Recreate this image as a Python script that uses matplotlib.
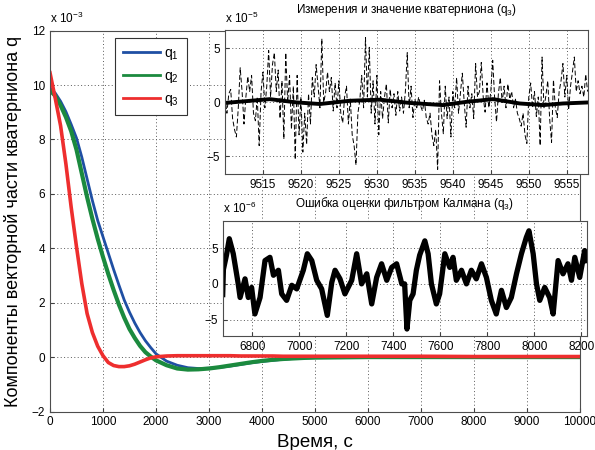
import numpy as np
import matplotlib
matplotlib.use("Agg")
import matplotlib.pyplot as plt

plt.rcParams['font.family'] = ['Liberation Sans', 'DejaVu Sans']
plt.rcParams['mathtext.fontset'] = 'custom'
plt.rcParams['mathtext.rm'] = 'Liberation Sans'
plt.rcParams['mathtext.it'] = 'Liberation Sans'

# ---------------- main chart data (values in units of 1e-3) ----------------
t_main = [0, 100, 200, 300, 400, 500, 600, 700, 800, 900, 1000, 1100, 1200, 1300, 1400,
          1500, 1600, 1700, 1800, 1900, 2000, 2200, 2400, 2600, 2800, 3000, 3200, 3400,
          3600, 3800, 4000, 4200, 4400, 4600, 4800, 5000, 6000, 7000, 8000, 9000, 10000]
q1 = [9.9, 9.7, 9.4, 9.02, 8.55, 8.05, 7.35, 6.55, 5.75, 5.02, 4.42, 3.82, 3.22, 2.65, 2.1,
      1.65, 1.25, 0.9, 0.6, 0.35, 0.12, -0.15, -0.3, -0.39, -0.42, -0.41, -0.38, -0.33,
      -0.27, -0.21, -0.16, -0.12, -0.08, -0.05, -0.03, -0.02, 0.0, 0.0, 0.0, 0.0, 0.0]
q2 = [9.8, 9.6, 9.25, 8.82, 8.3, 7.62, 6.75, 5.88, 5.08, 4.35, 3.68, 3.05, 2.47, 1.93, 1.45,
      1.03, 0.7, 0.41, 0.18, 0.02, -0.12, -0.3, -0.42, -0.46, -0.45, -0.42, -0.37, -0.31,
      -0.25, -0.19, -0.14, -0.1, -0.07, -0.05, -0.03, -0.02, 0.0, 0.0, 0.0, 0.0, 0.0]
q3 = [10.45, 9.5, 8.5, 7.1, 5.5, 4.05, 2.7, 1.6, 0.9, 0.4, 0.05, -0.2, -0.31, -0.35, -0.35,
      -0.32, -0.26, -0.18, -0.1, -0.03, 0.01, 0.04, 0.05, 0.05, 0.05, 0.05, 0.05, 0.05,
      0.04, 0.04, 0.04, 0.04, 0.03, 0.03, 0.03, 0.03, 0.03, 0.03, 0.02, 0.02, 0.02]
series_labels = ['q$_1$', 'q$_2$', 'q$_3$']
x_ticks_main = list(range(0, 10001, 1000))
y_ticks_main = list(range(-2, 13, 2))

# ---------------- inset 1: measurements (x1e-5) and estimate ----------------
meas_v = [
    0.5, -1.0, 0.8, 1.2, -1.5, -2.5, -3.2, -0.5, 3.2, 1.0, -2.0, 0.5, 2.4, 1.0, 2.5, -1.0,
    -1.7, 0.5, -4.0, 1.0, 2.8, -0.5, 1.5, 4.8, 0.5, 3.5, 4.6, 1.0, 3.0, -1.5, 2.0, -3.4,
    4.6, 0.0, 2.5, -2.5, 1.5, -5.3, 2.5, -3.0, 0.5, -4.6, -1.0, -3.9, 0.8, -2.0, 2.3, 0.5,
    3.5, 1.5, -0.5, 5.9, 0.0, 0.9, 2.8, 1.0, 2.3, -0.8, 1.8, -0.5, 2.0, -1.0, -1.9, 0.5,
    1.5, -2.0, 0.3, -3.0, -4.0, -5.8, -1.0, 0.2, 2.5, -0.5, 6.0, 0.5, 5.1, -1.0, 2.0, -2.0,
    2.5, -3.0, 1.0, -1.5, 0.5, 1.7, -1.9, 1.2, -0.5, 0.8, -1.2, 1.0, -0.8, 0.5, -1.0, 1.0,
    4.6, -0.5, 1.5, -1.4, 0.3, -0.5, 0.5, -0.3, -0.8, 0.2, -1.4, -2.0, -1.0, -3.0, -4.0, -2.5,
    -6.2, 2.0, -1.0, -2.9, 1.5, -1.5, 0.5, -3.2, 1.0, -0.5, 2.3, -1.0, 0.8, 2.7, 0.0, -2.3,
    1.5, -0.5, 0.8, -1.5, 3.6, 0.5, 1.0, 3.7, 0.5, -0.9, 1.8, -0.5, 1.0, 3.9, 0.5, -1.8,
    0.8, 2.3, 0.0, 1.5, -0.5, 1.7, 0.3, 1.0, -0.5, 0.3, -1.0, -1.5, -2.2, -1.0, -3.0, -3.8,
    0.5, 1.8, -0.5, 1.0, -1.3, 0.5, -4.0, 4.2, -0.5, 0.6, 2.0, -1.5, -3.7, 2.1, -0.5, -1.4,
    1.0, 2.0, 3.6, 0.5, 2.5, -0.7, 1.5, 2.8, 4.2, 1.0, 2.0, 0.8, 1.5, 0.5, 2.6, 1.0]
meas_t0 = 9510.0
meas_dt = 0.25
est_t = [9510, 9515.9, 9519.4, 9522.5, 9526.4, 9530.4, 9534.3, 9538.7, 9541.8, 9545.3,
         9548.8, 9551.9, 9554.5, 9558]
est_v = [-0.05, 0.3, 0.0, -0.15, 0.15, 0.25, -0.05, -0.25, 0.05, 0.3, -0.1, -0.25, -0.1, 0.0]
inset1_xticks = list(range(9515, 9556, 5))
inset1_yticks = [-5, 0, 5]

# ---------------- inset 2: Kalman estimate error (x1e-6) ----------------
err_t = [6674, 6677, 6690, 6702, 6719, 6740, 6748, 6769, 6783, 6797, 6811, 6833, 6854,
         6875, 6890, 6911, 6925, 6946, 6968, 6989, 7017, 7034, 7053, 7074, 7095, 7119,
         7138, 7152, 7173, 7194, 7223, 7244, 7265, 7287, 7308, 7329, 7350, 7372, 7393,
         7414, 7436, 7448, 7458, 7470, 7484, 7498, 7512, 7534, 7548, 7562, 7583, 7597,
         7619, 7640, 7654, 7668, 7690, 7711, 7732, 7753, 7775, 7796, 7817, 7838, 7860,
         7881, 7902, 7924, 7945, 7966, 7977, 7995, 8009, 8023, 8044, 8065, 8080, 8101,
         8122, 8143, 8158, 8172, 8193, 8214, 8222]
err_v = [-1.5, 2.0, 4.0, 6.3, 4.2, 0.0, -1.9, 0.7, -1.9, -0.5, -4.2, -1.9, 3.25,
         3.7, 1.2, 1.9, -1.4, -2.3, -0.2, -0.7, 1.9, 4.2, 3.25, 0.5, -0.7, -4.4,
         0.2, 1.9, 0.7, -1.4, 0.5, 4.2, 0.0, 1.4, -2.8, 0.9, 2.8, 0.5, 2.3,
         2.8, 0.0, 0.0, -6.3, -2.3, -1.4, 1.9, 4.0, 6.0, 4.2, 0.0, -2.8, -1.4,
         4.2, 2.3, 3.7, 0.5, 1.9, 0.0, 1.9, 0.7, 2.8, 0.9, -2.3, -4.2, -0.9,
         -3.3, -1.9, 1.4, 4.2, 6.5, 7.4, 4.2, 0.0, -2.3, -0.5, -1.9, -4.2, 3.25,
         1.4, 2.8, 0.5, 3.7, 0.9, 4.65, 3.25]
inset2_xticks = list(range(6800, 8201, 200))
inset2_yticks = [-5, 0, 5]

colors = ['#1f4fa3', '#1b8a3e', '#ee2e2e']
widths = [2.0, 3.0, 2.6]
grid_kw = dict(color='0.35', linestyle=(0, (1, 2.5)), linewidth=0.7)
tick_fs = 8.5

fig = plt.figure(figsize=(5.95, 4.5), dpi=100)

# ---------------- main axes ----------------
ax = fig.add_axes([50/595, 1 - 411.5/450, 530/595, 380.9/450])
for vals, c, lw, lab in zip([q1, q2, q3], colors, widths, series_labels):
    ax.plot(t_main, vals, color=c, linewidth=lw, label=lab, solid_joinstyle='round')
ax.set_xlim(0, 10000)
ax.set_ylim(-2, 12)
ax.set_xticks(x_ticks_main)
ax.set_yticks(y_ticks_main)
ax.tick_params(direction='in', length=3, labelsize=tick_fs, colors='0.25', labelcolor='black')
ax.grid(True, **grid_kw)
for s in ax.spines.values():
    s.set_color('0.3')
    s.set_linewidth(0.8)
ax.text(0.0, 1.012, r'x 10$^{-3}$', transform=ax.transAxes, fontsize=tick_fs,
        ha='left', va='bottom')
ax.set_xlabel('Время, с', fontsize=13.5)
ax.set_ylabel('Компоненты векторной части кватерниона q', fontsize=13)
ax.yaxis.set_label_coords(-0.052, 0.5)
ax.xaxis.set_label_coords(0.5, -0.058)
leg = ax.legend(loc='upper left', bbox_to_anchor=(0.1226, 0.9806), borderaxespad=0,
                fancybox=False, framealpha=1, edgecolor='0.2', fontsize=10,
                handlelength=2.7, labelspacing=0.5, borderpad=0.55, handletextpad=0.3)
leg.get_frame().set_linewidth(0.8)
for line in leg.get_lines():
    line.set_linewidth(2.0)

# ---------------- inset 1 ----------------
ax1 = fig.add_axes([225/595, 1 - 173.7/450, 363/595, 143.7/450])
meas_t = meas_t0 + meas_dt * np.arange(len(meas_v))
ax1.plot(meas_t, meas_v, color='black', linewidth=0.7, linestyle=(0, (5, 2.5)))
ax1.plot(est_t, est_v, color='black', linewidth=2.8)
ax1.set_xlim(9510, 9557.8)
ax1.set_ylim(-6.6, 6.7)
ax1.set_xticks(inset1_xticks)
ax1.set_yticks(inset1_yticks)
ax1.tick_params(direction='in', length=3, labelsize=tick_fs, colors='0.25', labelcolor='black')
ax1.grid(True, **grid_kw)
for s in ax1.spines.values():
    s.set_color('0.3')
    s.set_linewidth(0.8)
ax1.set_title('Измерения и значение кватерниона (q$_3$)', fontsize=8.5, pad=12)
ax1.text(0.0, 1.03, r'x 10$^{-5}$', transform=ax1.transAxes, fontsize=tick_fs,
         ha='left', va='bottom')

# ---------------- inset 2 ----------------
ax2 = fig.add_axes([222.7/595, 1 - 335.7/450, 364.3/595, 114.7/450])
ax2.plot(err_t, err_v, color='black', linewidth=3.8, solid_joinstyle='round')
ax2.set_xlim(6674, 8224)
ax2.set_ylim(-7.23, 8.77)
ax2.set_xticks(inset2_xticks)
ax2.set_yticks(inset2_yticks)
ax2.tick_params(direction='in', length=3, labelsize=tick_fs, colors='0.25', labelcolor='black')
ax2.grid(True, **grid_kw)
for s in ax2.spines.values():
    s.set_color('0.3')
    s.set_linewidth(0.8)
ax2.set_title('Ошибка оценки фильтром Калмана (q$_3$)', fontsize=8.5, pad=10)
ax2.text(0.0, 1.04, r'x 10$^{-6}$', transform=ax2.transAxes, fontsize=tick_fs,
         ha='left', va='bottom')

fig.savefig('out.png', dpi=100)
